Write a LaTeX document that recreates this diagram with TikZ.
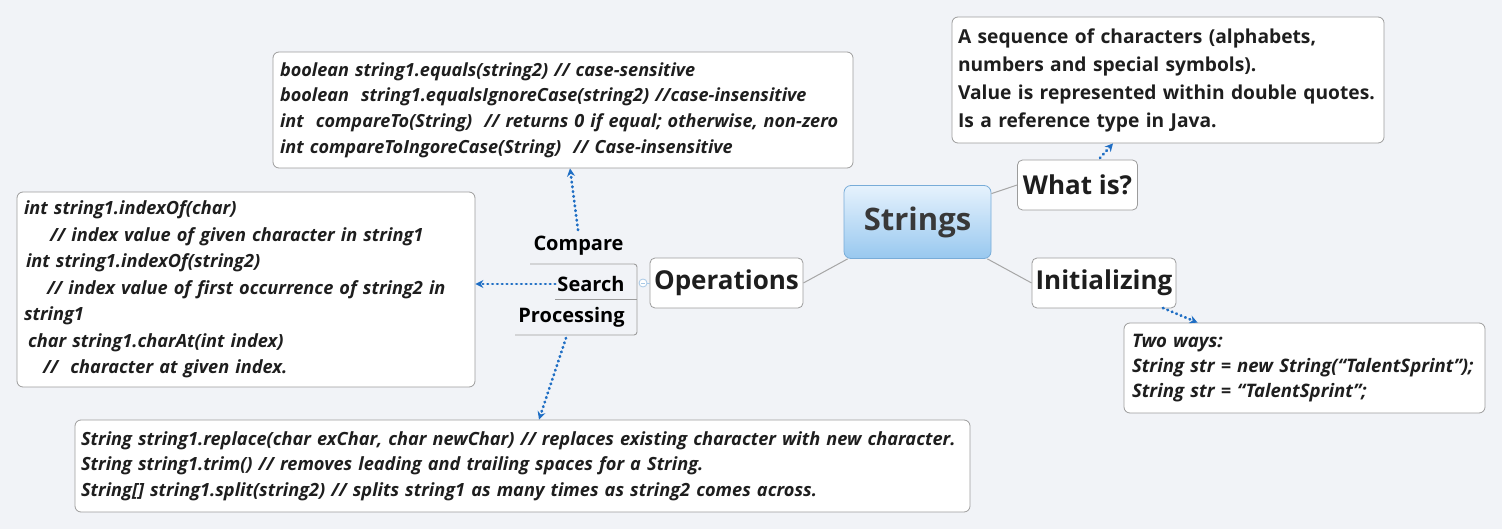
\documentclass[tikz,border=0pt]{standalone}
\usepackage{fontspec}
\setmainfont{Open Sans}
\usetikzlibrary{arrows.meta}
\definecolor{bg}{HTML}{F1F3F7}
\definecolor{boxgray}{HTML}{9C9C9C}
\definecolor{linegray}{HTML}{A6A6A6}
\definecolor{dotblue}{HTML}{1F6EC4}
\definecolor{txt}{HTML}{1E1E1E}
\definecolor{strtop}{HTML}{E6F2FD}
\definecolor{strbot}{HTML}{98C8EF}
\definecolor{strline}{HTML}{78ACD8}
\definecolor{togg}{HTML}{A9C9E6}
\begin{document}
\begin{tikzpicture}[x=1pt,y=-1pt,
  textbox/.style={draw=boxgray, fill=white, rounded corners=6pt, line width=0.8pt,
    align=left, text=txt, inner ysep=0pt},
  itx/.style={font=\fontsize{#1}{25.7}\selectfont\bfseries\itshape},
  topic/.style={draw=boxgray, fill=white, rounded corners=5pt, line width=0.8pt,
    text=txt, font=\fontsize{26}{30}\selectfont\bfseries, inner sep=0pt},
  strbox/.style={draw=strline, top color=strtop, bottom color=strbot, rounded corners=7pt,
    line width=0.8pt, text=black!78, font=\fontsize{31}{34}\selectfont\bfseries,
    minimum width=147pt, minimum height=73pt, inner sep=0pt},
  lbl/.style={text=black, font=\fontsize{20}{24}\selectfont\bfseries, inner sep=2pt},
  conn/.style={draw=linegray, line width=1pt},
  brk/.style={draw=boxgray, line width=0.9pt},
  dotarrow/.style={draw=dotblue, line width=2.8pt, line cap=round,
    dash pattern=on 0.6pt off 4.2pt,
    -{Stealth[length=8pt,width=8pt,line cap=butt,fill=dotblue]}}
]
\fill[bg] (0,0) rectangle (1502,529);
\useasboundingbox (0,0) rectangle (1502,529);

% central and main topics
\node[strbox] (strings) at (917.5,222) {Strings};
\node[topic, minimum width=120pt, minimum height=50pt] (whatis) at (1077.5,185) {What is?};
\node[topic, minimum width=144pt, minimum height=50pt] (init) at (1104,283) {Initializing};
\node[topic, minimum width=153pt, minimum height=50pt] (ops) at (726.5,283) {Operations};

% sub labels
\node[lbl] (compare) at (578.5,246) {Compare};
\node[lbl] (search) at (591,284) {Search};
\node[lbl] (processing) at (571.5,317) {Processing};
\draw[brk, rounded corners=3pt] (530,264) -- (637,264) -- (637,335) -- (515,335);
\draw[brk] (555,299) -- (637,299);
\node[circle, draw=togg, fill=white, line width=0.8pt, minimum size=8pt, inner sep=0pt] (tog) at (643,283) {};
\draw[togg, line width=0.7pt] ([xshift=-2.2pt]tog.center) -- ([xshift=2.2pt]tog.center);
\draw[togg, line width=0.7pt] (tog.east) -- (ops.west);

% text boxes
\node[textbox, itx=18.1, text width=566pt, inner xsep=7pt, minimum height=116pt] (cmpbox) at (563,110) {%
boolean string1.equals(string2) // case-sensitive\\
boolean~ string1.equalsIgnoreCase(string2) //case-insensitive\\
int~ compareTo(String)~ // returns 0 if equal; otherwise, non-zero\\
int compareToIngoreCase(String)~ // Case-insensitive};

\node[textbox, font=\fontsize{19.2}{28}\selectfont\bfseries, text width=420pt, inner xsep=6pt, minimum height=126pt] (whatbox) at (1168,80) {%
A sequence of characters (alphabets,\\
numbers and special symbols).\\
Value is represented within double quotes.\\
Is a reference type in Java.};

\node[textbox, font=\fontsize{18.2}{26.5}\selectfont\bfseries\itshape, text width=444pt, inner xsep=7pt, minimum height=195pt] (searchbox) at (246,289.5) {%
int string1.indexOf(char)\\
\hspace*{26pt}// index value of given character in string1\\
\hspace*{2pt}int string1.indexOf(string2)\\
\hspace*{23pt}// index value of first occurrence of string2 in\\
string1\\
\hspace*{4pt}char string1.charAt(int index)\\
\hspace*{19pt}//~ character at given index.};

\node[textbox, itx=18.2, text width=883pt, inner xsep=6pt, minimum height=92pt] (procbox) at (522.5,466) {%
String string1.replace(char exChar, char newChar) // replaces existing character with new character.\\
String string1.trim() // removes leading and trailing spaces for a String.\\
String[] string1.split(string2) // splits string1 as many times as string2 comes across.};

\node[textbox, font=\fontsize{18.6}{25}\selectfont\bfseries\itshape, text width=345pt, inner xsep=8pt, minimum height=90pt] (initbox) at (1304.5,368) {%
Two ways:\\
String str = new String(“TalentSprint”);\\
String str = “TalentSprint”;};

% grey connectors
\draw[conn] (strings.21) -- (whatis.west);
\draw[conn] ([xshift=-4pt]strings.south east) -- (init.west);
\draw[conn] ([xshift=4pt]strings.south west) -- (ops.east);

% dotted arrows
\coordinate (cmpstart) at (578,230);
\coordinate (procstart) at (566,338);
\coordinate (whatstart) at (1100,158);
\coordinate (initstart) at (1163,308);
\draw[dotarrow] (cmpstart) -- ([xshift=7pt]cmpbox.south);
\draw[dotarrow] (search.west) -- (search.west -| searchbox.east);
\draw[dotarrow] (procstart) -- ([xshift=16.5pt]procbox.north);
\draw[dotarrow] (whatstart) -- ([xshift=-55pt]whatbox.south);
\draw[dotarrow] (initstart) -- ([xshift=74pt]initbox.north west);
\end{tikzpicture}
\end{document}
